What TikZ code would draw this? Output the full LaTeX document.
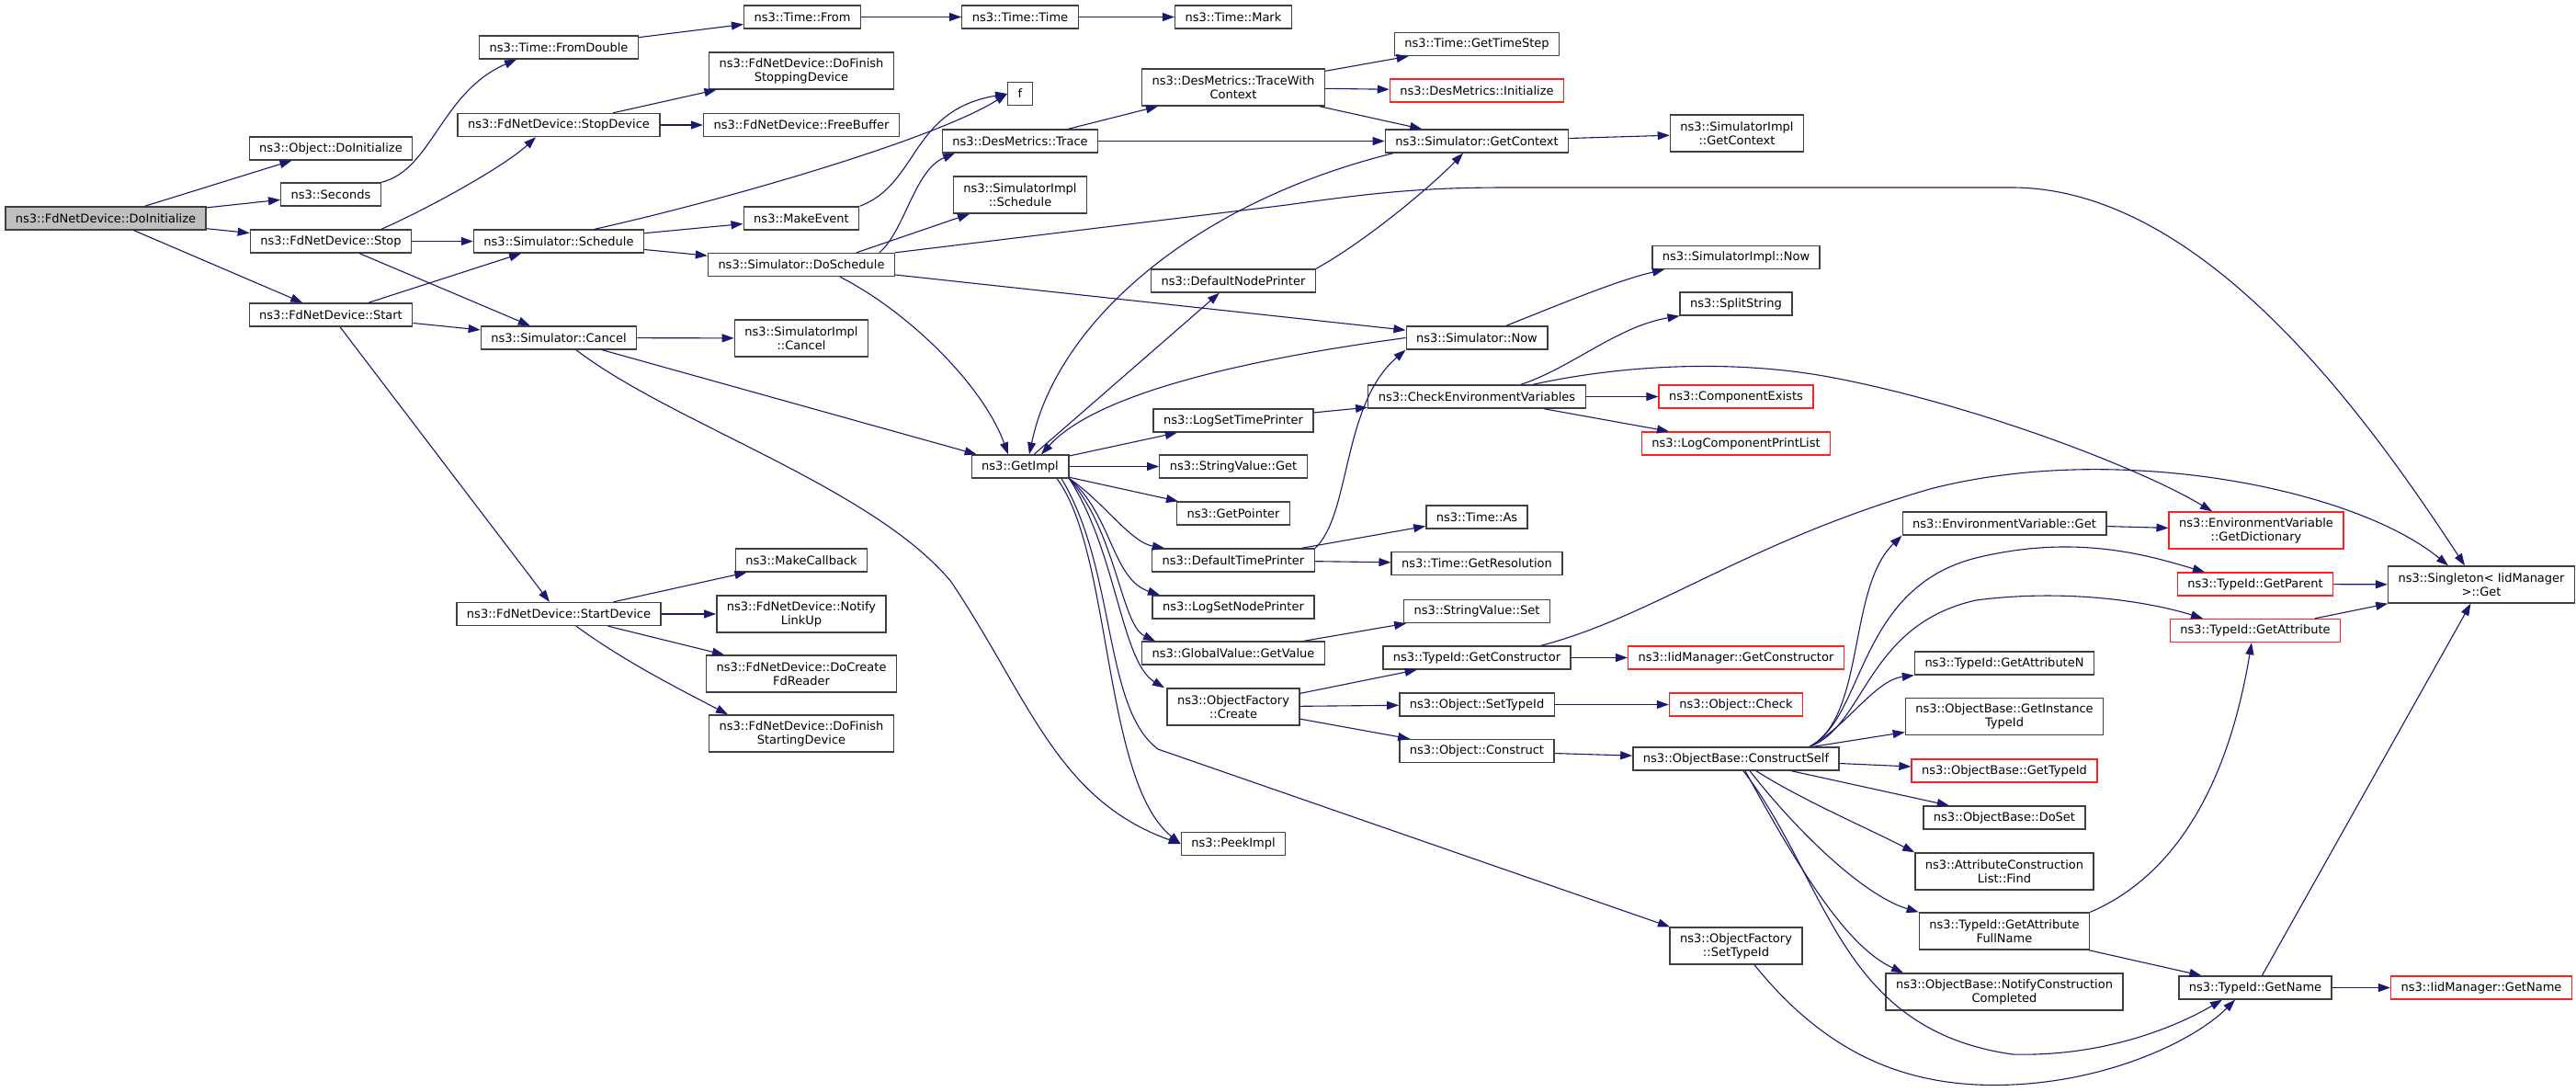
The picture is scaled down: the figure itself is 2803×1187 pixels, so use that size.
\documentclass[tikz,border=0pt]{standalone}
\usepackage{fontspec}
\setmainfont{DejaVu Sans}
\usetikzlibrary{arrows.meta}
\definecolor{azulflecha}{HTML}{191970}
\definecolor{bordegris}{HTML}{404040}
\definecolor{bordero}{HTML}{FF2020}
\definecolor{rellenogris}{HTML}{BFBFBF}
\begin{document}
\begin{tikzpicture}[x=1pt, y=-1pt,
    font=\fontsize{13}{15}\selectfont,
    caja/.style={draw=bordegris, line width=1.4pt, fill=white, align=center,
        inner xsep=11pt, inner ysep=5pt, minimum height=25pt},
    caja2/.style={caja, minimum height=40pt},
    roja/.style={caja, draw=bordero},
    roja2/.style={caja2, draw=bordero},
    raiz/.style={caja, fill=rellenogris},
    llamada/.style={draw=azulflecha, line width=1.1pt, -{Triangle[length=13pt,width=9pt]}}]

    % marco del dibujo
    \useasboundingbox (0,0) rectangle (2803,1187);

    % nodo raíz
    \node[raiz] (doinit) at (115,237.5) {ns3::FdNetDevice::DoInitialize};

    % nodos de una línea: nombre/x/y/texto
    \foreach \n/\x/\y/\txt in {
        objdoinit/360/161.5/{ns3::Object::DoInitialize},
        seconds/360/211.5/{ns3::Seconds},
        stop/360/262.5/{ns3::FdNetDevice::Stop},
        start/360/342.5/{ns3::FdNetDevice::Start},
        fromdouble/608/51.5/{ns3::Time::FromDouble},
        stopdev/608/136/{ns3::FdNetDevice::StopDevice},
        schedule/608/262.5/{ns3::Simulator::Schedule},
        cancel/608/367.5/{ns3::Simulator::Cancel},
        startdev/608/668/{ns3::FdNetDevice::StartDevice},
        from/873/18.5/{ns3::Time::From},
        freebuf/872/136/{ns3::FdNetDevice::FreeBuffer},
        makeevent/872/237.5/{ns3::MakeEvent},
        doschedule/872/288/{ns3::Simulator::DoSchedule},
        makecb/872/609.5/{ns3::MakeCallback},
        timetime/1110/18.5/{ns3::Time::Time},
        f/1110/102/{f},
        trace/1110/153.5/{ns3::DesMetrics::Trace},
        getimpl/1110/507.5/{ns3::GetImpl},
        mark/1342/18.5/{ns3::Time::Mark},
        nodeprn/1342/305.5/{ns3::DefaultNodePrinter},
        logtime/1342/457.5/{ns3::LogSetTimePrinter},
        strget/1342/507.5/{ns3::StringValue::Get},
        getptr/1342/558.5/{ns3::GetPointer},
        timeprn/1342/609.5/{ns3::DefaultTimePrinter},
        lognode/1342/660.5/{ns3::LogSetNodePrinter},
        globval/1342/710.5/{ns3::GlobalValue::GetValue},
        peekimpl/1342/918/{ns3::PeekImpl},
        timestep/1607/48/{ns3::Time::GetTimeStep},
        getctx/1607/153.5/{ns3::Simulator::GetContext},
        simnow/1607/367.5/{ns3::Simulator::Now},
        checkenv/1607/431.5/{ns3::CheckEnvironmentVariables},
        timeas/1607/562.5/{ns3::Time::As},
        timeres/1607/613/{ns3::Time::GetResolution},
        strset/1607/665/{ns3::StringValue::Set},
        getctor/1607/715.5/{ns3::TypeId::GetConstructor},
        settypeid/1607/766.5/{ns3::Object::SetTypeId},
        construct/1607/817/{ns3::Object::Construct},
        implnow/1889/280/{ns3::SimulatorImpl::Now},
        split/1889/330.5/{ns3::SplitString},
        constself/1889/825.5/{ns3::ObjectBase::ConstructSelf},
        envget/2181/569.5/{ns3::EnvironmentVariable::Get},
        attrn/2181/721.5/{ns3::TypeId::GetAttributeN},
        doset/2181/889.5/{ns3::ObjectBase::DoSet},
        getname/2454/1074.5/{ns3::TypeId::GetName}}
        \node[caja] (\n) at (\x,\y) {\txt};

    % nodos de dos líneas
    \foreach \n/\x/\y/\txt in {
        finstop/872/77/{ns3::FdNetDevice::DoFinish\\StoppingDevice},
        implcancel/872/368/{ns3::SimulatorImpl\\::Cancel},
        linkup/872/668/{ns3::FdNetDevice::Notify\\LinkUp},
        createrd/872/733/{ns3::FdNetDevice::DoCreate\\FdReader},
        finstart/872/798/{ns3::FdNetDevice::DoFinish\\StartingDevice},
        implsched/1110/212/{ns3::SimulatorImpl\\::Schedule},
        tracectx/1342/95/{ns3::DesMetrics::TraceWith\\Context},
        ofcreate/1342/769/{ns3::ObjectFactory\\::Create},
        implctx/1890/145/{ns3::SimulatorImpl\\::GetContext},
        ofsettype/1889/1029/{ns3::ObjectFactory\\::SetTypeId},
        insttype/2181/779.5/{ns3::ObjectBase::GetInstance\\TypeId},
        attrfind/2181/948/{ns3::AttributeConstruction\\List::Find},
        attrfull/2181/1013/{ns3::TypeId::GetAttribute\\FullName},
        notify/2181/1079/{ns3::ObjectBase::NotifyConstruction\\Completed},
        singleton/2700/636/{ns3::Singleton< IidManager\\>::Get}}
        \node[caja2] (\n) at (\x,\y) {\txt};

    % nodos en rojo
    \foreach \n/\x/\y/\txt in {
        desinit/1607/98.5/{ns3::DesMetrics::Initialize},
        compexists/1889/431.5/{ns3::ComponentExists},
        complist/1889/482.5/{ns3::LogComponentPrintList},
        iidctor/1889/715.5/{ns3::IidManager::GetConstructor},
        check/1889/766.5/{ns3::Object::Check},
        gettypeid/2181/838.5/{ns3::ObjectBase::GetTypeId},
        getparent/2454/635.5/{ns3::TypeId::GetParent},
        getattr/2454/686/{ns3::TypeId::GetAttribute},
        iidname/2700/1074.5/{ns3::IidManager::GetName}}
        \node[roja] (\n) at (\x,\y) {\txt};
    \node[roja2] (getdict) at (2455,577) {ns3::EnvironmentVariable\\::GetDictionary};

    % llamadas rectas
    \foreach \a/\b in {doinit/objdoinit, doinit/seconds, doinit/stop, doinit/start,
        fromdouble/from, from/timetime, timetime/mark,
        stop/schedule, stop/cancel, start/schedule, start/cancel, start/startdev,
        stopdev/finstop, stopdev/freebuf,
        schedule/makeevent, schedule/doschedule, doschedule/simnow,
        cancel/implcancel, cancel/getimpl,
        startdev/makecb, startdev/linkup, startdev/createrd,
        trace/tracectx, trace/getctx, tracectx/timestep, tracectx/desinit, tracectx/getctx,
        getctx/implctx,
        getimpl/logtime, getimpl/strget, getimpl/getptr, getimpl/nodeprn,
        logtime/checkenv, checkenv/compexists, checkenv/complist,
        timeprn/timeas, timeprn/timeres, globval/strset,
        ofcreate/getctor, ofcreate/settypeid, ofcreate/construct,
        getctor/iidctor, settypeid/check, construct/constself,
        constself/insttype, constself/gettypeid, constself/doset,
        envget/getdict, attrfull/getname,
        getparent/singleton, getattr/singleton, getname/singleton, getname/iidname}
        \draw[llamada] (\a) -- (\b);

    % llamadas curvas
    \draw[llamada] (seconds.north east) .. controls (470,185) and (480,100) .. ([xshift=-46]fromdouble.south);
    \draw[llamada] ([xshift=55]stop.north) .. controls (470,225) and (550,180) .. ([xshift=-25]stopdev.south);
    \draw[llamada] ([xshift=39]schedule.north) .. controls (800,215) and (1020,150) .. (f.west);
    \draw[llamada] (makeevent.north east) .. controls (1000,200) and (990,120) .. (f.west);
    \draw[llamada] ([xshift=19]startdev.south) .. controls (680,720) and (740,750) .. ([xshift=-80]finstart.north);
    \draw[llamada] ([xshift=85]doschedule.north) .. controls (985,250) and (995,185) .. ([xshift=-71]trace.south);
    \draw[llamada] ([xshift=60]doschedule.north) -- ([xshift=-55]implsched.south);
    \draw[llamada] (doschedule.north east) -- (1400,223) .. controls (1500,209) and (1550,204) .. (1640,204)
        -- (2189,204) .. controls (2400,204) and (2580,460) .. ([xshift=-18]singleton.north);
    \draw[llamada] ([xshift=42]doschedule.south) .. controls (990,340) and (1070,420) .. ([xshift=-13]getimpl.north);
    \draw[llamada] ([xshift=-91]getctx.south) .. controls (1300,220) and (1150,350) .. ([xshift=10]getimpl.north);
    \draw[llamada] (simnow.west) .. controls (1400,385) and (1200,420) .. ([xshift=23]getimpl.north);
    \draw[llamada] (nodeprn.north east) .. controls (1490,260) and (1560,200) .. ([xshift=-15]getctx.south);
    \draw[llamada] ([xshift=19]cancel.south) .. controls (730,460) and (950,530) .. (1035,633)
        .. controls (1120,760) and (1150,870) .. (peekimpl.west);
    \draw[llamada] ([xshift=40]getimpl.south) .. controls (1210,600) and (1200,850) .. (peekimpl.west);
    \draw[llamada] ([xshift=45]getimpl.south) .. controls (1215,620) and (1200,770) .. (1260,815)
        -- ([xshift=-72]ofsettype.north);
    \draw[llamada] (getimpl.south east) .. controls (1200,545) and (1230,590) .. ([xshift=-75]timeprn.north);
    \draw[llamada] (getimpl.south east) .. controls (1210,560) and (1210,630) .. ([xshift=-80]lognode.north);
    \draw[llamada] (getimpl.south east) .. controls (1215,580) and (1220,680) .. ([xshift=-85]globval.north);
    \draw[llamada] (getimpl.south east) .. controls (1215,600) and (1220,720) .. ([xshift=-75]ofcreate.north);
    \draw[llamada] (timeprn.north east) .. controls (1470,560) and (1460,440) .. (simnow.south west);
    \draw[llamada] ([xshift=32]simnow.north) .. controls (1700,330) and (1760,305) .. ([xshift=-78]implnow.south);
    \draw[llamada] ([xshift=48]checkenv.north) .. controls (1710,400) and (1760,355) .. (split.south west);
    \draw[llamada] ([xshift=61]checkenv.north) .. controls (1760,398) and (1880,390) .. (1990,410)
        .. controls (2150,440) and (2330,510) .. ([xshift=-48]getdict.north);
    \draw[llamada] ([xshift=70]getctor.north) .. controls (1800,670) and (1900,590) .. (2100,532)
        .. controls (2300,480) and (2560,530) .. ([xshift=-36]singleton.north);

    % llamadas de ConstructSelf
    \draw[llamada] ([xshift=80]constself.north) .. controls (2030,780) and (2010,640) .. (envget.south west);
    \draw[llamada] ([xshift=80]constself.north) .. controls (2030,780) and (2020,640) .. (2150,607)
        .. controls (2260,580) and (2340,605) .. ([xshift=-55]getparent.north);
    \draw[llamada] ([xshift=80]constself.north) .. controls (2030,790) and (2030,680) .. (2150,653)
        .. controls (2250,640) and (2340,655) .. ([xshift=-57]getattr.north);
    \draw[llamada] ([xshift=80]constself.north) .. controls (2010,790) and (2040,740) .. (attrn.south west);
    \draw[llamada] ([xshift=22]constself.south) .. controls (1960,870) and (2030,900) .. (attrfind.north west);
    \draw[llamada] ([xshift=15]constself.south) .. controls (1960,910) and (2030,975) .. (attrfull.north west);
    \draw[llamada] ([xshift=10]constself.south) .. controls (1960,950) and (2010,1030) .. ([xshift=-110]notify.north);
    \draw[llamada] ([xshift=8]constself.south) .. controls (1990,960) and (2000,1120) .. (2190,1147)
        .. controls (2300,1150) and (2380,1110) .. ([xshift=-36]getname.south);
    \draw[llamada] ([xshift=20]ofsettype.south) .. controls (1990,1150) and (2080,1185) .. (2190,1180)
        .. controls (2300,1175) and (2390,1130) .. ([xshift=-22]getname.south);
    \draw[llamada] (attrfull.north east) .. controls (2350,960) and (2420,880) .. ([xshift=-4]getattr.south);
\end{tikzpicture}
\end{document}
